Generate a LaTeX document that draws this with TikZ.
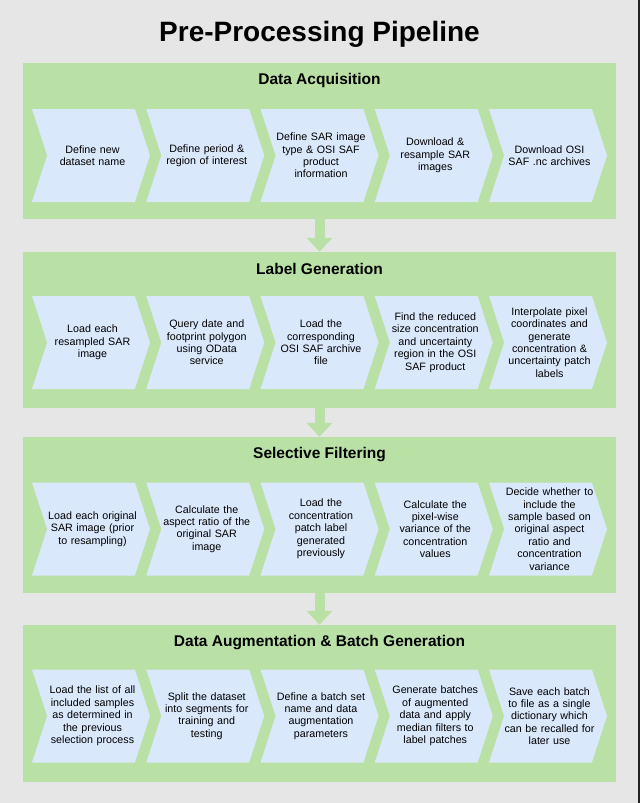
\documentclass[tikz,border=0pt]{standalone}
\usepackage{fontspec}
\setmainfont{Liberation Sans}
\usetikzlibrary{arrows.meta, shapes.symbols, positioning}

\definecolor{bggray}{HTML}{E6E6E6}
\definecolor{edgegray}{HTML}{222222}
\definecolor{panelgreen}{HTML}{B9E0A5}
\definecolor{chevblue}{HTML}{DAE8FC}

\begin{document}
\begin{tikzpicture}[x=1pt, y=-1pt,
    panel/.style = {fill=panelgreen, minimum width=593pt, minimum height=156pt, inner sep=0pt},
    paneltitle/.style = {font=\fontsize{15.5}{18}\selectfont\bfseries, inner sep=0pt},
    chevron/.style = {signal, signal from=west, signal to=east, signal pointer angle=144,
        fill=chevblue, minimum width=118pt, minimum height=93pt, inner sep=0pt},
    steptext/.style = {text width=96pt, align=center, inner sep=0pt,
        font=\fontsize{10.7}{12.4}\selectfont},
    flow/.style = {draw=panelgreen, line width=10pt, -{Triangle[width=25pt, length=14pt]}}]

    \useasboundingbox (0, 0) rectangle (640, 803);
    \fill[bggray] (0, 0) rectangle (640, 803);
    \fill[edgegray] (638, 0) rectangle (640, 803);

    \node[font=\fontsize{28}{34}\selectfont\bfseries] (title) at (319.5, 34) {Pre-Processing Pipeline};

    % stages
    \node[panel] (acq) at (319.5, 141) {};
    \node[panel] (lab) at (319.5, 330) {};
    \node[panel] (sel) at (319.5, 515) {};
    \node[panel, minimum height=157pt] (aug) at (319.5, 703.5) {};

    \node[paneltitle] (acqtitle) at ([yshift=-18pt]acq.north) {Data Acquisition};
    \node[paneltitle] (labtitle) at ([yshift=-17pt]lab.north) {Label Generation};
    \node[paneltitle] (seltitle) at ([yshift=-17.5pt]sel.north) {Selective Filtering};
    \node[paneltitle] (augtitle) at ([yshift=-17.5pt]aug.north) {Data Augmentation \& Batch Generation};

    \draw[flow] (acq.south) -- (lab.north);
    \draw[flow] (lab.south) -- (sel.north);
    \draw[flow] (sel.south) -- (aug.north);

    % steps
    \foreach \txt [count=\i] in {
        {Define new\\dataset name},
        {Define period \&\\region of interest},
        {Define SAR image\\type \& OSI SAF\\product\\information},
        {Download \&\\resample SAR\\images},
        {Download OSI\\SAF .nc archives}}
    {
        \node[chevron] (acq\i) at ({91+114.25*(\i-1)}, 155.5) {};
        \node[steptext] (acq\i text) at ([xshift=1.5pt]acq\i.center) {\txt};
    }

    \foreach \txt [count=\i] in {
        {Load each\\resampled SAR\\image},
        {Query date and\\footprint polygon\\using OData\\service},
        {Load the\\corresponding\\OSI SAF archive\\file},
        {Find the reduced\\size concentration\\and uncertainty\\region in the OSI\\SAF product},
        {Interpolate pixel\\coordinates and\\generate\\concentration \&\\uncertainty patch\\labels}}
    {
        \node[chevron] (lab\i) at ({91+114.25*(\i-1)}, 342.5) {};
        \node[steptext] (lab\i text) at ([xshift=1.5pt]lab\i.center) {\txt};
    }

    \foreach \txt [count=\i] in {
        {Load each original\\SAR image (prior\\to resampling)},
        {Calculate the\\aspect ratio of the\\original SAR\\image},
        {Load the\\concentration\\patch label\\generated\\previously},
        {Calculate the\\pixel-wise\\variance of the\\concentration\\values},
        {Decide whether to\\include the\\sample based on\\original aspect\\ratio and\\concentration\\variance}}
    {
        \node[chevron] (sel\i) at ({91+114.25*(\i-1)}, 529) {};
        \node[steptext] (sel\i text) at ([xshift=1.5pt]sel\i.center) {\txt};
    }

    \foreach \txt [count=\i] in {
        {Load the list of all\\included samples\\as determined in\\the previous\\selection process},
        {Split the dataset\\into segments for\\training and\\testing},
        {Define a batch set\\name and data\\augmentation\\parameters},
        {Generate batches\\of augmented\\data and apply\\median filters to\\label patches},
        {Save each batch\\to file as a single\\dictionary which\\can be recalled for\\later use}}
    {
        \node[chevron] (aug\i) at ({91+114.25*(\i-1)}, 716) {};
        \node[steptext] (aug\i text) at ([xshift=1.5pt]aug\i.center) {\txt};
    }
\end{tikzpicture}
\end{document}
